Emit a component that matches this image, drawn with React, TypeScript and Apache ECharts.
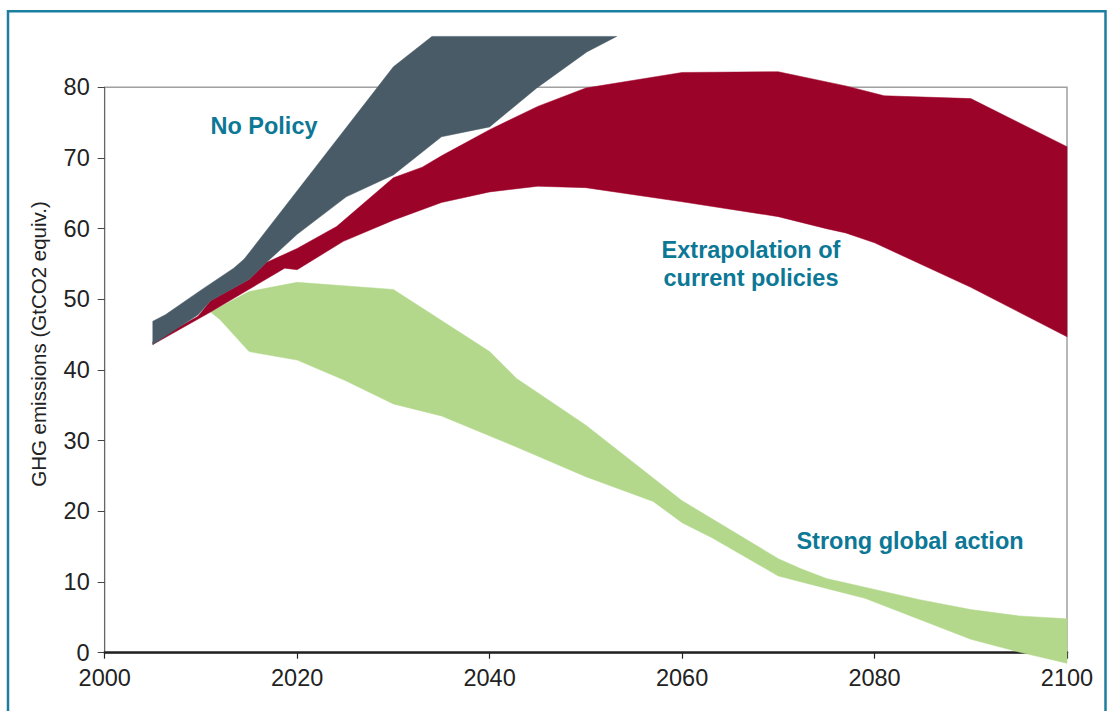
import React, { useEffect, useRef } from "react";
import * as echarts from "echarts";

// Year ticks and value ticks
const xTicks = { min: 2000, max: 2100, interval: 20 };
const yTicks = { min: 0, max: 80, interval: 10 };

// No Policy band (upper and lower edges), [year, GtCO2e]
const noPolicyUpper: number[][] = [
  [2005, 46.9], [2006.3, 47.8], [2010, 51.3], [2013.4, 54.4], [2014.5, 55.7],
  [2030, 82.9], [2034, 87.2], [2053.2, 87.2],
];
const noPolicyLower: number[][] = [
  [2005, 43.6], [2009.7, 47.8], [2011, 49.8], [2015, 52.8], [2016.8, 55.2],
  [2020, 59.2], [2025.1, 64.5], [2030, 67.6], [2035, 73.0], [2040, 74.4],
  [2044.9, 79.9], [2050.1, 85.0], [2053.2, 87.2],
];

// Extrapolation of current policies band
const currentUpper: number[][] = [
  [2005, 44.0], [2009.7, 47.6], [2011, 49.8], [2015, 52.8], [2016.8, 55.2],
  [2020, 57.2], [2024.1, 60.3], [2030, 67.2], [2033, 68.7], [2035, 70.3],
  [2040, 74.0], [2045, 77.3], [2050, 79.9], [2060, 82.1], [2070, 82.2],
  [2077, 80.2], [2081, 78.8], [2090, 78.4], [2100, 71.6],
];
const currentLower: number[][] = [
  [2005, 43.6], [2011, 48.2], [2014.6, 51.1], [2018.7, 54.4], [2020, 54.2],
  [2024.8, 58.2], [2030, 61.2], [2035, 63.7], [2040, 65.2], [2045, 66.0],
  [2050, 65.8], [2060, 63.8], [2070, 61.7], [2075, 60.0], [2077, 59.4],
  [2080, 58.0], [2090, 51.7], [2100, 44.7],
];

// Strong global action band
const strongUpper: number[][] = [
  [2011, 48.2], [2015, 51.1], [2020, 52.4], [2030, 51.4], [2040, 42.6],
  [2042.8, 38.8], [2050, 32.2], [2060, 21.5], [2070, 13.3], [2072.3, 11.9],
  [2075, 10.5], [2084.7, 7.5], [2090, 6.1], [2095, 5.2], [2100, 4.8],
];
const strongLower: number[][] = [
  [2011, 48.2], [2012, 47.1], [2015, 42.6], [2020, 41.4], [2025, 38.5],
  [2030, 35.2], [2035, 33.5], [2042.8, 29.1], [2050, 24.9], [2057, 21.4],
  [2060, 18.4], [2063.2, 16.2], [2070, 10.85], [2075, 9.1], [2079, 7.7],
  [2090, 1.9], [2095, 0.1], [2100, -1.5],
];

const bandNames = ["Strong global action", "Extrapolation of current policies", "No Policy"];
const bandColors = ["#b3d88c", "#9c0329", "#485b66"];

const FONT = "'Liberation Sans', Arial, sans-serif";
const LABEL_COLOR = "#0c7896";

function bandSeries(name: string, upper: number[][], lower: number[][], color: string, z: number) {
  return {
    type: "custom",
    name,
    z,
    clip: false,
    silent: true,
    data: [[upper[0][0], upper[0][1]]],
    encode: { x: 0, y: 1 },
    renderItem: (_params: any, api: any) => {
      const pts = upper
        .map((p) => api.coord(p))
        .concat(lower.slice().reverse().map((p) => api.coord(p)));
      return {
        type: "polygon",
        shape: { points: pts },
        style: { fill: color, stroke: color, lineWidth: 0.5 },
      };
    },
  };
}

export default function App() {
  const ref = useRef<HTMLDivElement>(null);
  useEffect(() => {
    if (!ref.current) return;
    const chart = echarts.init(ref.current, undefined, { renderer: "svg" });
    chart.setOption({
      animation: false,
      backgroundColor: "#ffffff",
      grid: {
        left: 104.7,
        right: 40,
        top: 87.3,
        bottom: 58.3,
        show: true,
        borderColor: "#a0a0a0",
        borderWidth: 1.5,
        backgroundColor: "transparent",
      },
      xAxis: {
        type: "value",
        min: xTicks.min,
        max: xTicks.max,
        interval: xTicks.interval,
        axisLine: { show: true, onZero: false, lineStyle: { color: "#222", width: 2.5 } },
        axisTick: { show: true, length: 6, lineStyle: { color: "#222", width: 1.2 } },
        axisLabel: {
          fontSize: 23.5,
          color: "#222",
          fontFamily: FONT,
          margin: 13,
          formatter: (v: number) => String(v),
        },
        splitLine: { show: false },
      },
      yAxis: {
        type: "value",
        min: yTicks.min,
        max: yTicks.max,
        interval: yTicks.interval,
        axisLine: { show: true, onZero: false, lineStyle: { color: "#666", width: 1 } },
        axisTick: { show: true, length: 7, lineStyle: { color: "#444", width: 1 } },
        axisLabel: { fontSize: 23.5, color: "#222", fontFamily: FONT, margin: 15 },
        splitLine: { show: false },
      },
      series: [
        bandSeries(bandNames[0], strongUpper, strongLower, bandColors[0], 2),
        bandSeries(bandNames[1], currentUpper, currentLower, bandColors[1], 3),
        bandSeries(bandNames[2], noPolicyUpper, noPolicyLower, bandColors[2], 4),
      ],
      graphic: [
        {
          type: "rect",
          z: 100,
          silent: true,
          shape: { x: 8, y: 11.3, width: 1097.5, height: 720 },
          style: { fill: "none", stroke: "#1c7fa0", lineWidth: 2.5 },
        },
        {
          type: "text",
          x: 38,
          y: 344,
          rotation: Math.PI / 2,
          style: {
            text: "GHG emissions (GtCO2 equiv.)",
            fontSize: 20.5,
            fontFamily: FONT,
            fill: "#222",
            textAlign: "center",
            textVerticalAlign: "middle",
          },
        },
        {
          type: "text",
          x: 264,
          y: 126,
          z: 50,
          style: {
            text: "No Policy",
            fontSize: 23.5,
            fontWeight: "bold",
            fontFamily: FONT,
            fill: LABEL_COLOR,
            textAlign: "center",
            textVerticalAlign: "middle",
          },
        },
        {
          type: "text",
          x: 751,
          y: 264,
          z: 50,
          style: {
            text: "Extrapolation of\ncurrent policies",
            fontSize: 23.5,
            lineHeight: 28,
            fontWeight: "bold",
            fontFamily: FONT,
            fill: LABEL_COLOR,
            textAlign: "center",
            textVerticalAlign: "middle",
          },
        },
        {
          type: "text",
          x: 910,
          y: 541,
          z: 50,
          style: {
            text: "Strong global action",
            fontSize: 23.5,
            fontWeight: "bold",
            fontFamily: FONT,
            fill: LABEL_COLOR,
            textAlign: "center",
            textVerticalAlign: "middle",
          },
        },
      ],
    });
    return () => chart.dispose();
  }, []);
  return (
    <div
      ref={ref}
      style={{ position: "absolute", left: 0, top: 0, width: 1107, height: 711 }}
    />
  );
}
